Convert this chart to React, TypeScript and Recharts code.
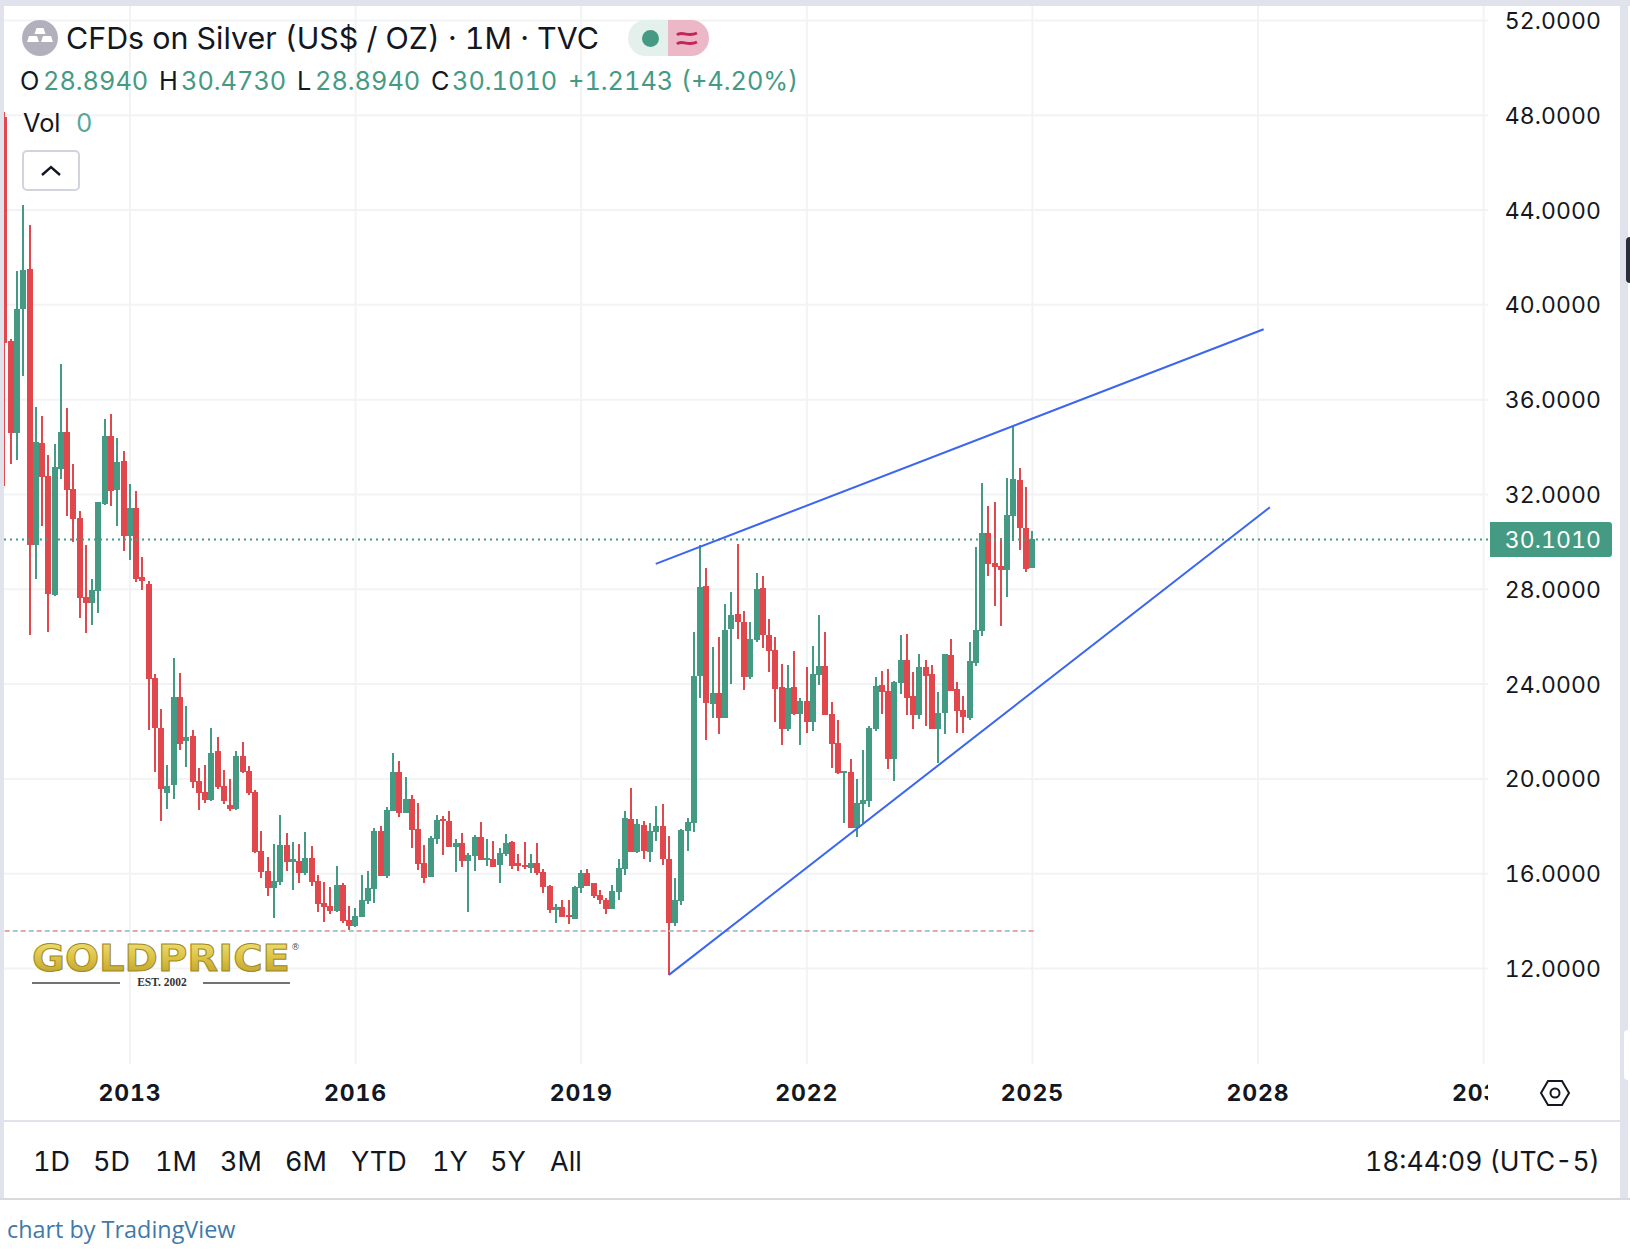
import React from "react";
import { ComposedChart, Bar, XAxis, YAxis, CartesianGrid, ReferenceLine } from "recharts";

// monthly candles, May 2011 to Jan 2025
const opens = [47.93,38.49,34.6,39.81,41.5,29.87,34.17,32.78,27.77,33.06,34.64,32.23,31.0,27.66,27.44,27.94,31.6,34.47,32.19,33.41,
  30.25,31.43,28.52,28.22,24.26,22.15,19.4,19.74,23.45,21.6,21.8,19.9,19.45,19.1,21.17,19.7,18.9,18.73,20.97,20.33,
  19.45,16.96,16.11,15.39,15.65,17.2,16.5,16.53,16.03,16.66,15.69,14.76,14.64,14.43,15.52,14.04,13.8,14.17,14.84,15.35,
  17.8,15.92,18.65,20.3,18.56,19.14,17.88,16.45,15.86,17.47,18.31,18.23,17.13,17.3,16.54,16.75,17.55,16.6,16.63,16.37,
  16.84,17.34,16.43,16.37,16.24,16.43,16.07,15.48,14.47,14.6,14.26,14.1,15.39,16.03,15.6,15.09,14.88,14.5,15.23,16.2,
  18.31,16.92,18.06,16.92,17.76,18.0,16.63,13.9,14.84,17.8,18.15,24.35,28.14,23.16,23.63,22.57,26.33,26.96,26.6,24.3,
  25.87,28.05,26.07,25.44,23.88,22.1,23.88,22.74,23.3,22.4,24.4,24.77,22.74,21.5,20.25,20.3,17.94,18.95,19.06,22.1,
  23.96,23.7,20.84,24.06,25.0,23.5,22.7,24.72,24.43,22.1,22.8,25.23,23.8,22.9,22.57,24.9,26.24,30.37,29.1,28.98,
  28.82,31.1,32.6,30.6,28.894];
const closes = [38.39,34.6,39.83,41.47,29.87,34.2,32.74,27.8,33.16,34.64,32.19,30.96,27.63,27.44,27.97,31.68,34.47,32.15,33.37,30.25,
  31.43,28.43,28.35,24.23,22.15,19.58,19.7,23.45,21.47,21.77,19.87,19.4,19.1,21.1,19.65,19.05,18.73,20.97,20.3,19.4,
  16.92,16.07,15.39,15.69,17.2,16.49,16.6,16.03,16.66,15.65,14.72,14.6,14.43,15.52,14.0,13.8,14.2,14.88,15.39,17.8,
  15.92,18.7,20.3,18.58,19.14,17.84,16.41,15.82,17.5,18.27,18.23,17.13,17.3,16.54,16.8,17.55,16.57,16.66,16.3,16.88,
  17.3,16.33,16.33,16.28,16.43,16.03,15.44,14.47,14.6,14.17,14.17,15.44,16.03,15.48,15.05,14.88,14.5,15.27,16.24,18.35,
  16.92,18.1,16.96,17.8,18.0,16.6,13.9,14.88,17.85,18.2,24.35,28.1,23.2,23.63,22.57,26.3,26.9,26.6,24.3,25.9,
  28.0,26.07,25.4,23.8,22.1,23.84,22.74,23.3,22.4,24.43,24.77,22.7,21.47,20.25,20.33,17.94,18.98,19.1,22.15,23.92,
  23.67,20.84,24.1,25.0,23.42,22.7,24.72,24.35,22.1,22.8,25.27,23.7,22.86,22.6,24.97,26.28,30.38,29.07,28.94,28.82,
  31.14,32.65,30.6,28.86,30.101];
const highs = [48.14,38.55,41.42,44.2,43.37,35.7,35.3,33.66,34.13,37.5,35.65,33.28,31.3,29.87,28.43,31.7,35.2,35.4,34.38,33.84,
  32.45,32.15,29.36,28.35,24.43,22.95,20.6,25.1,24.47,23.07,22.06,20.45,20.6,22.15,21.77,20.37,20.0,21.17,21.56,20.54,
  19.53,17.8,16.7,17.27,18.47,17.73,17.35,17.27,17.77,17.16,15.93,15.65,15.44,16.32,15.6,14.64,14.55,15.95,16.1,17.92,
  18.0,18.8,21.1,20.75,20.1,19.32,18.98,17.2,17.6,18.47,18.44,18.65,17.47,17.73,16.88,17.64,18.2,17.47,17.38,17.1,
  17.68,17.38,16.84,17.34,16.84,17.3,16.2,15.52,14.72,14.88,14.88,15.48,16.16,16.2,15.6,15.3,14.97,15.52,16.62,18.65,
  19.63,18.31,18.23,18.14,18.87,18.95,17.6,15.82,17.9,18.35,26.2,29.87,28.9,25.57,26.0,27.38,27.9,29.93,27.1,26.6,
  28.7,28.55,26.75,26.0,24.85,24.8,25.4,23.42,24.7,25.6,26.9,26.2,23.25,22.5,20.33,20.84,20.0,21.2,22.24,24.3,
  24.55,24.63,24.14,26.07,26.1,24.5,25.27,25.0,24.8,23.67,25.27,25.9,24.1,23.5,25.77,29.8,32.49,31.5,31.7,30.17,
  32.7,34.89,33.12,32.3,30.473];
const lows = [32.36,33.3,33.45,37.0,26.07,28.43,30.67,26.2,27.7,32.65,31.09,29.99,26.8,26.17,26.49,27.0,31.56,31.52,30.67,29.62,
  29.24,28.3,27.97,22.06,20.3,18.22,18.73,19.15,21.2,20.5,19.6,18.7,19.0,19.05,19.58,18.94,18.65,18.7,20.25,19.3,
  16.88,15.8,15.05,14.13,15.52,16.1,15.3,15.62,15.93,15.48,14.38,13.96,14.3,14.38,13.93,13.63,13.75,14.17,14.72,14.76,
  15.92,15.82,18.65,18.4,18.56,17.1,16.16,15.6,15.86,17.25,16.8,17.13,16.07,16.29,14.38,16.1,16.57,16.33,16.3,15.62,
  16.75,16.2,16.1,16.2,16.03,15.93,15.18,14.34,13.93,14.17,13.89,14.1,15.18,15.48,14.97,14.72,14.3,14.5,14.88,15.93,
  16.92,16.88,16.6,16.5,17.38,16.37,11.73,13.8,14.68,16.96,17.76,23.42,21.64,22.57,21.9,22.57,24.0,25.9,23.75,24.2,
  25.78,25.53,24.5,22.4,21.43,22.0,22.7,21.43,21.94,22.03,23.96,22.7,20.46,20.2,18.15,17.94,17.55,18.15,18.8,22.03,
  22.74,20.42,19.9,23.58,22.7,22.1,22.53,22.24,22.1,20.66,21.9,23.7,21.94,21.94,22.5,24.76,26.03,28.56,27.3,26.45,
  27.68,30.04,29.66,28.73,28.894];

const yTicks = [12, 16, 20, 24, 28, 32, 36, 40, 44, 48, 52];
const xTicks = [20, 56, 92, 128, 164, 200, 236];
const xLabels = ["2013", "2016", "2019", "2022", "2025", "2028", "2031"];
const upperTrend = [{ x: 103.9, y: 29.07 }, { x: 200.9, y: 38.97 }];
const lowerTrend = [{ x: 106, y: 11.73 }, { x: 201.9, y: 31.46 }];
const lastClose = 30.101;
const lowLine = 13.58;
const ranges = ["1D", "5D", "1M", "3M", "6M", "YTD", "1Y", "5Y", "All"];
const rangeLefts = [33, 93, 155, 220, 285, 351, 432, 490, 550];

const GREEN = "#459A84";
const RED = "#E0484E";
const INK = "#131722";
const FONT = "Inter, sans-serif";
const TNUM = { fontVariantNumeric: "tabular-nums" };

const candles = opens.map((open, i) => ({
  t: i,
  open,
  close: closes[i],
  range: [lows[i], highs[i]],
}));

function Candle(props: any) {
  const { x, y, width, height, payload } = props;
  const [low, high] = payload.range;
  const h = Math.abs(height);
  const top = height < 0 ? y + height : y;
  const toY = (v: number) => top + ((high - v) / (high - low)) * h;
  const cx = x + width / 2;
  const up = payload.close >= payload.open;
  const c = up ? GREEN : RED;
  const bodyTop = toY(Math.max(payload.open, payload.close));
  const bodyBot = toY(Math.min(payload.open, payload.close));
  return (
    <g shapeRendering="crispEdges">
      <rect x={Math.round(cx - 1)} y={top} width={2} height={h} fill={c} />
      <rect x={Math.round(cx - 3)} y={bodyTop} width={6} height={Math.max(bodyBot - bodyTop, 2)} fill={c} />
    </g>
  );
}

function PriceTick(props: any) {
  const { y, payload } = props;
  return (
    <text x={1601} y={y + 0.5} textAnchor="end" dominantBaseline="central" fontFamily={FONT} fontSize={23} letterSpacing={0.1} fill={INK} style={TNUM}>
      {payload.value.toFixed(4)}
    </text>
  );
}

function YearTick(props: any) {
  const { x, payload } = props;
  return (
    <g clipPath="url(#yearClip)">
      <text x={x} y={1093} textAnchor="middle" dominantBaseline="central" fontFamily={FONT} fontSize={23} fontWeight={700} letterSpacing={0.9} fill={INK} style={TNUM}>
        {xLabels[xTicks.indexOf(payload.value)]}
      </text>
    </g>
  );
}

function LastPrice(props: any) {
  const y = props.viewBox.y;
  return (
    <g>
      <path d={`M1490 ${y - 17.5}H1609a3 3 0 0 1 3 3V${y + 14.5}a3 3 0 0 1 -3 3H1490Z`} fill={GREEN} />
      <text x={1601} y={y + 0.5} textAnchor="end" dominantBaseline="central" fontFamily={FONT} fontSize={23} letterSpacing={0.1} fill="#fff" style={TNUM}>
        {lastClose.toFixed(4)}
      </text>
    </g>
  );
}

function Txt({ x, y, size = 25.3, color = INK, family = FONT, spacing = 0, children }: any) {
  return (
    <span style={{ position: "absolute", left: x, top: y, transform: "translateY(-50%)", fontFamily: family, fontSize: size, color, letterSpacing: spacing, whiteSpace: "nowrap", lineHeight: 1, ...TNUM }}>
      {children}
    </span>
  );
}

function Logo() {
  return (
    <svg width={320} height={70} style={{ position: "absolute", left: 0, top: 930 }}>
      <defs>
        <linearGradient id="gold" x1="0" y1="0" x2="0" y2="1">
          <stop offset="0" stopColor="#f3e682" />
          <stop offset="0.5" stopColor="#dcc244" />
          <stop offset="1" stopColor="#b5982a" />
        </linearGradient>
      </defs>
      <text x={32} y={41} fontFamily="'DejaVu Sans', sans-serif" fontWeight={700} fontSize={38} textLength={258} lengthAdjust="spacingAndGlyphs" fill="url(#gold)" stroke="#a08a22" strokeWidth={1}>
        GOLDPRICE
      </text>
      <text x={291} y={20} fontFamily="'DejaVu Sans', sans-serif" fontSize={9} fill="#555">®</text>
      <line x1={32} x2={120} y1={53} y2={53} stroke="#444" strokeWidth={1.5} />
      <line x1={203} x2={290} y1={53} y2={53} stroke="#444" strokeWidth={1.5} />
      <text x={162} y={56} textAnchor="middle" fontFamily="'Liberation Serif', serif" fontWeight={700} fontSize={11.5} fill="#333">EST. 2002</text>
    </svg>
  );
}

export default function App() {
  return (
    <div style={{ position: "absolute", left: 0, top: 0, width: 1630, height: 1252, background: "#fff", overflow: "hidden" }}>
      <ComposedChart
        width={1630}
        height={1252}
        data={candles}
        margin={{ top: 6, right: 0, bottom: 0, left: 4 }}
        style={{ position: "absolute", left: 0, top: 0 }}
      >
        <defs>
          <clipPath id="yearClip">
            <rect x={0} y={1064} width={1488} height={57} />
          </clipPath>
        </defs>
        <CartesianGrid stroke="#f2f3f4" strokeWidth={2} syncWithTicks />
        <XAxis
          dataKey="t"
          type="number"
          domain={[-0.1, 236.7]}
          ticks={xTicks}
          interval={0}
          height={188}
          tick={<YearTick />}
          axisLine={false}
          tickLine={false}
          allowDataOverflow
        />
        <YAxis
          orientation="right"
          type="number"
          domain={[7.97, 52.61]}
          ticks={yTicks}
          interval={0}
          width={142}
          tick={<PriceTick />}
          axisLine={false}
          tickLine={false}
          allowDataOverflow
        />
        <ReferenceLine y={lastClose} stroke={GREEN} strokeWidth={2} strokeDasharray="2 4" label={<LastPrice />} />
        <ReferenceLine segment={[{ x: 0, y: lowLine }, { x: 164.4, y: lowLine }]} stroke="#e9a5a5" strokeWidth={2} strokeDasharray="5 11" />
        <ReferenceLine segment={[{ x: 1.3, y: lowLine }, { x: 164.4, y: lowLine }]} stroke="#9dd0ca" strokeWidth={2} strokeDasharray="5 11" />
        <Bar dataKey="range" barSize={6} shape={<Candle />} isAnimationActive={false} />
        <ReferenceLine segment={upperTrend} stroke="#3a66f0" strokeWidth={2} />
        <ReferenceLine segment={lowerTrend} stroke="#3a66f0" strokeWidth={2} />
      </ComposedChart>

      {/* frame around the widget */}
      <div style={{ position: "absolute", left: 0, top: 0, width: 1630, height: 6, background: "#e0e3eb" }} />
      <div style={{ position: "absolute", left: 0, top: 0, width: 4, height: 1199, background: "#e0e3eb" }} />
      <div style={{ position: "absolute", left: 1620, top: 0, width: 8, height: 1199, background: "#e0e3eb" }} />
      <div style={{ position: "absolute", left: 1626, top: 237, width: 4, height: 46, background: "#2a2e39", borderRadius: "4px 0 0 4px" }} />
      <div style={{ position: "absolute", left: 1624, top: 1030, width: 6, height: 50, background: "#fff", borderRadius: "4px 0 0 4px" }} />
      <div style={{ position: "absolute", left: 4, top: 1120, width: 1616, height: 2, background: "#e0e3eb" }} />
      <div style={{ position: "absolute", left: 0, top: 1198, width: 1630, height: 2, background: "#d9dadd" }} />

      {/* legend */}
      <svg width={40} height={40} style={{ position: "absolute", left: 20, top: 18 }}>
        <circle cx={20} cy={20} r={18} fill="#b2b0bd" />
        <path d="M16.5 10h7l2 6h-11zM9 18h8l2 6H7zM23 18h8l2 6H21z" fill="#fff" />
      </svg>
      <Txt x={66} y={38} size={30.4}>CFDs on Silver (US$ / OZ) · 1M · TVC</Txt>
      <div style={{ position: "absolute", left: 628, top: 20, width: 40, height: 36, background: "#e3f0ec", borderRadius: "18px 0 0 18px" }} />
      <div style={{ position: "absolute", left: 668, top: 20, width: 41, height: 36, background: "#ecb8c8", borderRadius: "0 18px 18px 0" }} />
      <div style={{ position: "absolute", left: 642, top: 30, width: 17, height: 17, background: GREEN, borderRadius: "50%" }} />
      <svg width={26} height={22} style={{ position: "absolute", left: 675, top: 27 }}>
        <path d="M2 8c5-5 10 3 20-2M2 17c5-5 10 3 20-2" fill="none" stroke="#c2255c" strokeWidth={3} />
      </svg>

      <Txt x={20} y={81}>O</Txt><Txt x={43} y={81} color={GREEN}>28.8940</Txt>
      <Txt x={159} y={81}>H</Txt><Txt x={181} y={81} color={GREEN}>30.4730</Txt>
      <Txt x={297} y={81}>L</Txt><Txt x={315} y={81} color={GREEN}>28.8940</Txt>
      <Txt x={431} y={81}>C</Txt><Txt x={452} y={81} color={GREEN}>30.1010</Txt>
      <Txt x={568} y={81} color={GREEN}>+1.2143</Txt><Txt x={681} y={81} color={GREEN}>(+4.20%)</Txt>

      <Txt x={23} y={123}>Vol</Txt>
      <Txt x={76} y={123} color="#53a99c">0</Txt>
      <div style={{ position: "absolute", left: 22, top: 150, width: 58, height: 41, boxSizing: "border-box", border: "2px solid #d1d4dc", borderRadius: 5, background: "#fff" }} />
      <svg width={24} height={14} style={{ position: "absolute", left: 39, top: 164 }}>
        <path d="M3 11L12 3L21 11" fill="none" stroke={INK} strokeWidth={2.4} />
      </svg>

      <Logo />

      {/* settings icon on the time axis */}
      <svg width={36} height={32} style={{ position: "absolute", left: 1537, top: 1077 }}>
        <path d="M4 16L11 4H25L32 16L25 28H11Z" fill="none" stroke={INK} strokeWidth={2} />
        <circle cx={18} cy={16} r={4.5} fill="none" stroke={INK} strokeWidth={2} />
      </svg>

      {/* range toolbar */}
      {ranges.map((r, i) => (
        <Txt key={r} x={rangeLefts[i]} y={1161} size={27}>{r}</Txt>
      ))}
      <Txt x={1365} y={1161} size={26.5}>18:44:09 (UTC-5)</Txt>

      <Txt x={7} y={1230} size={23.4} color="#3f7aa8" family="'Open Sans', sans-serif">chart by TradingView</Txt>
    </div>
  );
}
